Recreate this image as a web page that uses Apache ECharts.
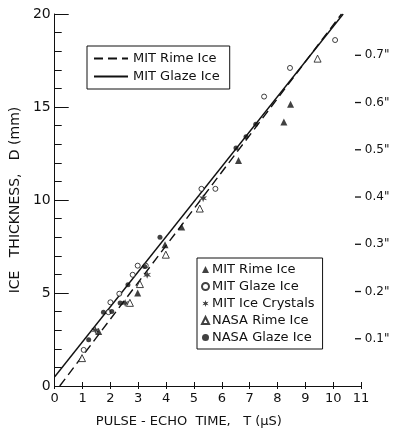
<!DOCTYPE html>
<html>
<head>
<meta charset="utf-8">
<script src="https://cdn.jsdelivr.net/npm/echarts@6/dist/echarts.min.js"></script>
<style>
  html, body { margin: 0; padding: 0; background: #fff; }
  #chart { width: 393px; height: 435px; }
</style>
</head>
<body>
<div id="chart"></div>
<script>
// data: [T (us), D (mm)]
var mitRime = [[1.58, 2.93], [2.98, 5.0], [3.96, 7.6], [4.56, 8.55], [6.6, 12.13], [8.23, 14.2], [8.47, 15.15]];
var mitGlaze = [[1.04, 1.94], [1.93, 3.97], [2.0, 4.5], [2.32, 4.96], [2.8, 5.98], [2.98, 6.47], [3.27, 6.47],
                [5.27, 10.6], [5.77, 10.6], [7.52, 15.56], [8.45, 17.1], [10.07, 18.6]];
var mitCrystals = [[1.46, 3.0], [2.53, 4.46], [3.32, 5.98], [5.33, 10.1]];
var nasaRime = [[0.98, 1.5], [2.7, 4.47], [3.06, 5.48], [3.99, 7.06], [5.21, 9.54], [9.44, 17.6]];
var nasaGlaze = [[1.22, 2.48], [1.75, 3.97], [2.05, 4.0], [2.35, 4.46], [2.63, 5.44], [3.23, 6.43],
                 [3.78, 8.0], [6.51, 12.8], [6.87, 13.4], [7.22, 14.07]];
// fitted lines (end points)
var rimeFit = [[0.18, 0], [10.3, 20]];
var glazeFit = [[0, 0.5], [10.36, 20]];

var xTicks = [0, 11];   // x range, us
var yTicks = [0, 20];   // y range, mm

var font = '"DejaVu Sans", sans-serif';
var ink = '#111';
var star = 'path://M0 -10 L2 -3.46 L8.66 -5 L4 0 L8.66 5 L2 3.46 L0 10 L-2 3.46 L-8.66 5 L-4 0 L-8.66 -5 L-2 -3.46 Z';

var myChart = echarts.init(document.getElementById('chart'));

function scatter(name, data, symbol, size, filled) {
    return {
        name: name,
        type: 'scatter',
        data: data,
        symbol: symbol,
        symbolSize: size,
        itemStyle: filled ? { color: ink } : { color: '#fff', borderColor: ink, borderWidth: 1 },
        z: 5
    };
}

var option = {
    animation: false,
    backgroundColor: '#fff',
    textStyle: { fontFamily: font, color: ink },
    grid: { left: 52, top: 14, width: 309, height: 372 },
    legend: [
        {
            data: ['MIT Rime Ice fit', 'MIT Glaze Ice fit'],
            formatter: function (n) { return n.replace(' fit', ''); },
            orient: 'vertical', left: 87, top: 46,
            padding: [6, 10, 6, 6], itemGap: 5,
            itemWidth: 34, itemHeight: 12,
            itemStyle: { color: 'rgba(0,0,0,0)', borderWidth: 0 },
            borderColor: ink, borderWidth: 1,
            textStyle: { fontSize: 13, color: ink, fontFamily: font }
        },
        {
            data: ['MIT Rime Ice', 'MIT Glaze Ice', 'MIT Ice Crystals', 'NASA Rime Ice', 'NASA Glaze Ice'],
            orient: 'vertical', left: 197, top: 258,
            padding: [5, 8, 5, 4], itemGap: 4,
            itemWidth: 7, itemHeight: 7,
            borderColor: ink, borderWidth: 1,
            textStyle: { fontSize: 13, color: ink, fontFamily: font, padding: [0, 0, 0, -2] }
        }
    ],
    xAxis: [
        {
            type: 'value', min: xTicks[0], max: xTicks[1], interval: 1,
            name: 'PULSE - ECHO  TIME,   T (\u03bcS)',
            nameLocation: 'middle', nameGap: 29,
            nameTextStyle: { fontSize: 13, color: ink, padding: [0, 38, 0, 0] },
            axisLine: { lineStyle: { color: ink, width: 1.2 } },
            axisTick: { inside: true, length: 4, lineStyle: { color: ink } },
            axisLabel: { fontSize: 13, color: ink, margin: 6 },
            splitLine: { show: false }
        },
        {
            type: 'value', position: 'top', min: xTicks[0], max: xTicks[1], interval: 1,
            axisLine: { lineStyle: { color: ink, width: 1.2 } },
            axisTick: { inside: true, length: 3, lineStyle: { color: ink } },
            axisLabel: { show: false },
            splitLine: { show: false }
        }
    ],
    yAxis: [
        {
            type: 'value', min: yTicks[0], max: yTicks[1], interval: 5,
            name: 'ICE   THICKNESS,   D (mm)',
            nameLocation: 'middle', nameGap: 32, nameRotate: 90,
            nameTextStyle: { fontSize: 14, color: ink },
            axisLine: { lineStyle: { color: ink, width: 1 } },
            axisTick: { inside: true, length: 14, lineStyle: { color: ink } },
            minorTick: { show: true, splitNumber: 5, length: 7, lineStyle: { color: ink } },
            axisLabel: { fontSize: 14, color: ink, margin: 4 },
            splitLine: { show: false }
        },
        {
            type: 'value', position: 'right', min: 0, max: 20 / 25.4, interval: 0.1,
            axisLine: { show: false },
            axisTick: { show: false },
            axisLabel: {
                fontSize: 12, color: ink, margin: -6,
                formatter: function (v) {
                    var r = Math.round(v * 10);
                    if (r === 0 || Math.abs(v * 10 - r) > 1e-6) return '';
                    return '{t|}' + ' ' + (r / 10).toFixed(1) + '"';
                },
                rich: {
                    t: { width: 6, height: 1.3, backgroundColor: ink }
                }
            },
            splitLine: { show: false }
        }
    ],
    series: [
        {
            name: 'MIT Rime Ice fit', type: 'line', data: rimeFit, symbol: 'none',
            itemStyle: { color: ink },
            lineStyle: { color: ink, width: 1.4, type: [9, 5] }, z: 3
        },
        {
            name: 'MIT Glaze Ice fit', type: 'line', data: glazeFit, symbol: 'none',
            itemStyle: { color: ink },
            lineStyle: { color: ink, width: 1.4 }, z: 3
        },
        scatter('MIT Rime Ice', mitRime, 'triangle', 7, true),
        scatter('MIT Glaze Ice', mitGlaze, 'circle', 5, false),
        scatter('MIT Ice Crystals', mitCrystals, star, 8, true),
        scatter('NASA Rime Ice', nasaRime, 'triangle', 7, false),
        scatter('NASA Glaze Ice', nasaGlaze, 'circle', 5, true)
    ]
};

myChart.setOption(option, true);
</script>
</body>
</html>
